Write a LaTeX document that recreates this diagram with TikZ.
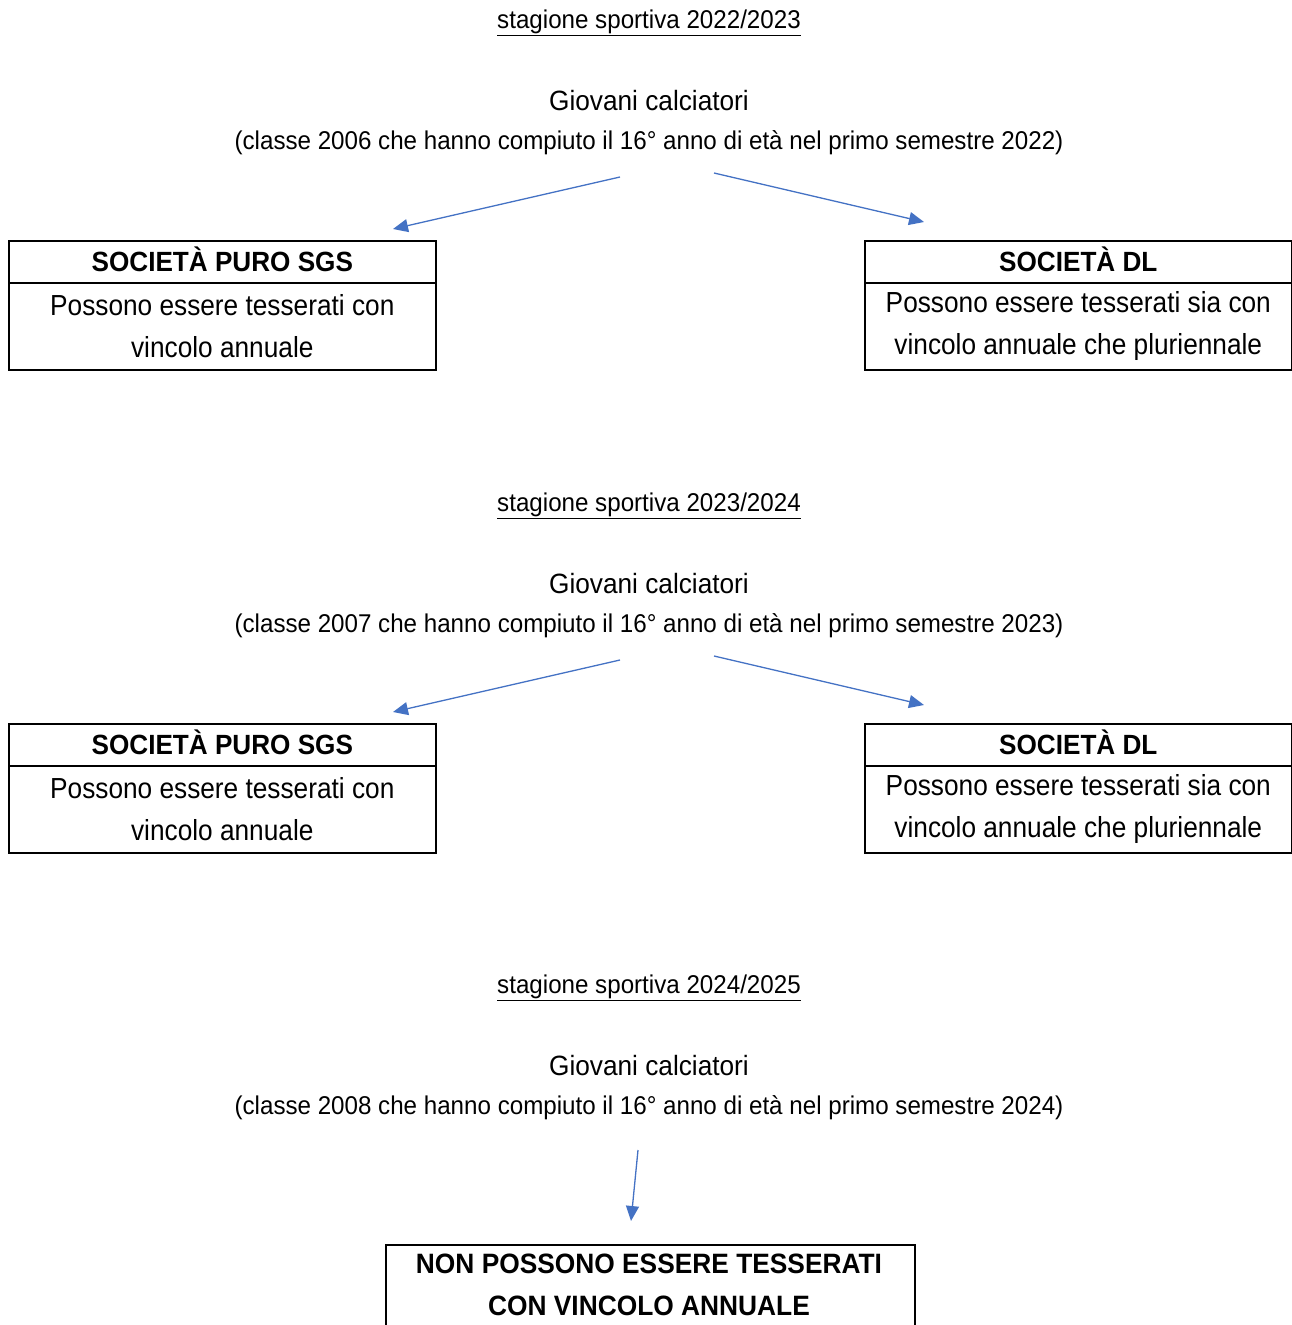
\documentclass[tikz,border=0pt]{standalone}
\usepackage{fontspec}
\setmainfont[FakeStretch=0.94]{Liberation Sans}
\newfontfamily\bodyfont[FakeStretch=0.905]{Liberation Sans}
\usetikzlibrary{arrows.meta}
\definecolor{arrowblue}{HTML}{4472C4}
\tikzset{
  boxline/.style={draw=black, line width=1.6pt},
  hdr/.style={boxline, rectangle, minimum width=427pt, minimum height=42pt, inner sep=0pt, text height=20pt, text depth=0pt, font=\fontsize{27.8}{32}\selectfont\bfseries, anchor=north west},
  bodybox/.style={boxline, rectangle, minimum width=427pt, minimum height=87pt, inner sep=0pt, align=center, font=\bodyfont\fontsize{29}{42}\selectfont, anchor=north west},
  plain/.style={inner sep=0pt},
  season/.style={inner sep=0pt, font=\fontsize{25.7}{30}\selectfont},
  conn/.style={draw=arrowblue, line width=1.3pt, -{Triangle[length=15pt,width=13pt]}},
}
\newcommand{\ulx}[1]{\underline{#1}}
\begin{document}
\begin{tikzpicture}[x=1pt,y=-1pt]
\useasboundingbox (0,0) rectangle (1292,1325);
\foreach \off/\ya/\yb/\cls in {0/2022/2023/2006, 483/2023/2024/2007}{
  \begin{scope}[yshift=-\off pt]
  \node[season] (s\ya) at (649,23) {\ulx{stagione sportiva \ya/\yb}};
  \node[plain, font=\fontsize{27.9}{32}\selectfont] (g\ya) at (649,101) {Giovani calciatori};
  \node[plain, font=\fontsize{25.7}{30}\selectfont] (c\ya) at (649,143) {(classe \cls{} che hanno compiuto il 16° anno di età nel primo semestre \ya)};
  \coordinate (la\ya) at (620,177);
  \coordinate (lb\ya) at (393,229);
  \coordinate (ra\ya) at (714,173);
  \coordinate (rb\ya) at (924,222);
  \draw[conn] (la\ya) -- (lb\ya);
  \draw[conn] (ra\ya) -- (rb\ya);
  \node[hdr] (lh\ya) at (8,240) {SOCIETÀ PURO SGS};
  \node[bodybox] (lbx\ya) at (8,282) {Possono essere tesserati con\\vincolo annuale};
  \node[hdr] (rh\ya) at (864,240) {SOCIETÀ DL};
  \node[bodybox] (rbx\ya) at (864,282) {Possono essere tesserati sia con\\vincolo annuale che pluriennale};
  \end{scope}
}
\node[season] (s2024) at (649,988) {\ulx{stagione sportiva 2024/2025}};
\node[plain, font=\fontsize{27.9}{32}\selectfont] (g2024) at (649,1066) {Giovani calciatori};
\node[plain, font=\fontsize{25.7}{30}\selectfont] (c2024) at (649,1108) {(classe 2008 che hanno compiuto il 16° anno di età nel primo semestre 2024)};
\coordinate (da) at (638,1150);
\coordinate (db) at (631,1221);
\draw[conn] (da) -- (db);
\node[boxline, rectangle, minimum width=529pt, minimum height=110pt, inner sep=0pt, anchor=north west] (nb) at (385,1244) {};
\node[inner sep=0pt, align=center, font=\fontsize{28}{42}\selectfont\bfseries] (nt) at (649,1285) {NON POSSONO ESSERE TESSERATI\\CON VINCOLO ANNUALE};
\end{tikzpicture}
\end{document}
